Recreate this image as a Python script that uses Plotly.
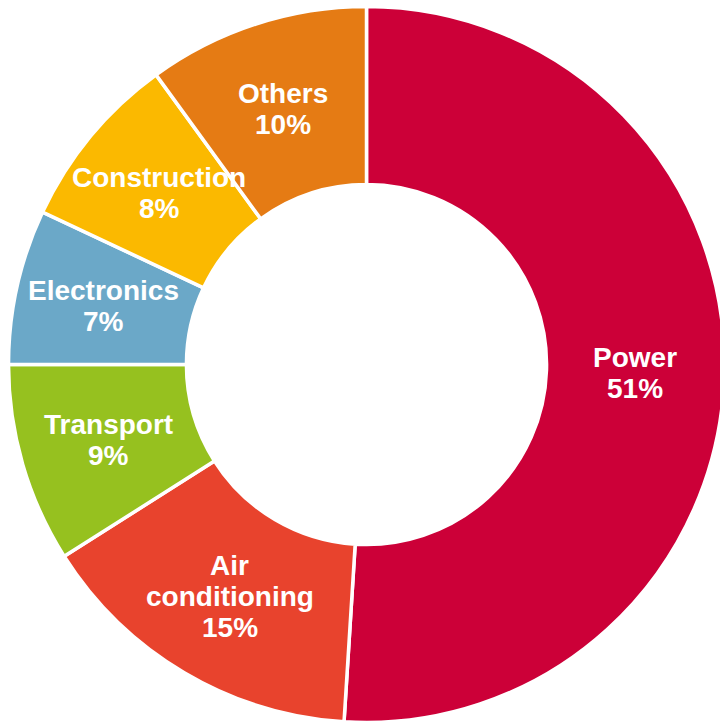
import math
import plotly.graph_objects as go

# Share of demand by end-use sector (percent)
sectors = ["Power", "Air conditioning", "Transport", "Electronics", "Construction", "Others"]
label_lines = [["Power"], ["Air", "conditioning"], ["Transport"], ["Electronics"], ["Construction"], ["Others"]]
shares = [51, 15, 9, 7, 8, 10]
colors = ["#CC0038", "#E8432D", "#96C11F", "#6BA8C8", "#FBB900", "#E57B14"]

W, H = 733, 729
cx, cy, R = 366.5, 364.5, 358.0  # ring centre and outer radius in pixels
HOLE = 0.503
FONT_SIZE = 28
LINE_PITCH = 31  # px between label lines

fig = go.Figure(
    go.Pie(
        labels=sectors,
        values=shares,
        textinfo="none",
        marker=dict(colors=colors, line=dict(color="white", width=3.5)),
        hole=HOLE,
        sort=False,
        direction="clockwise",
        rotation=0,
        showlegend=False,
        domain=dict(
            x=[(cx - R) / W, (cx + R) / W],
            y=[(H - cy - R) / H, (H - cy + R) / H],
        ),
    )
)

# Slice labels at the middle of each ring segment, one annotation per line
total = sum(shares)
r_mid = R * (1 + HOLE) / 2
cum = 0.0
for lines, val in zip(label_lines, shares):
    ang = 2 * math.pi * (cum + val / 2) / total  # clockwise from 12 o'clock
    cum += val
    px = cx + r_mid * math.sin(ang)
    py = cy - r_mid * math.cos(ang)
    rows = lines + [f"{val}%"]
    n = len(rows)
    for i, row in enumerate(rows):
        fig.add_annotation(
            x=px / W,
            y=1 - py / H,
            xref="paper",
            yref="paper",
            text=row,
            showarrow=False,
            xanchor="center",
            yanchor="middle",
            yshift=((n - 1) / 2 - i) * LINE_PITCH,
            font=dict(family="Liberation Sans, Arial, sans-serif", size=FONT_SIZE,
                      color="white", weight="bold"),
        )

fig.update_layout(
    width=W,
    height=H,
    margin=dict(l=0, r=0, t=0, b=0, pad=0),
    paper_bgcolor="white",
    plot_bgcolor="white",
    font=dict(family="Liberation Sans, Arial, sans-serif"),
)

fig.write_html(
    "out.html",
    post_script=(
        "document.documentElement.style.overflow='hidden';"
        "document.body.style.overflow='hidden';"
        "document.body.style.margin='0';"
    ),
)
